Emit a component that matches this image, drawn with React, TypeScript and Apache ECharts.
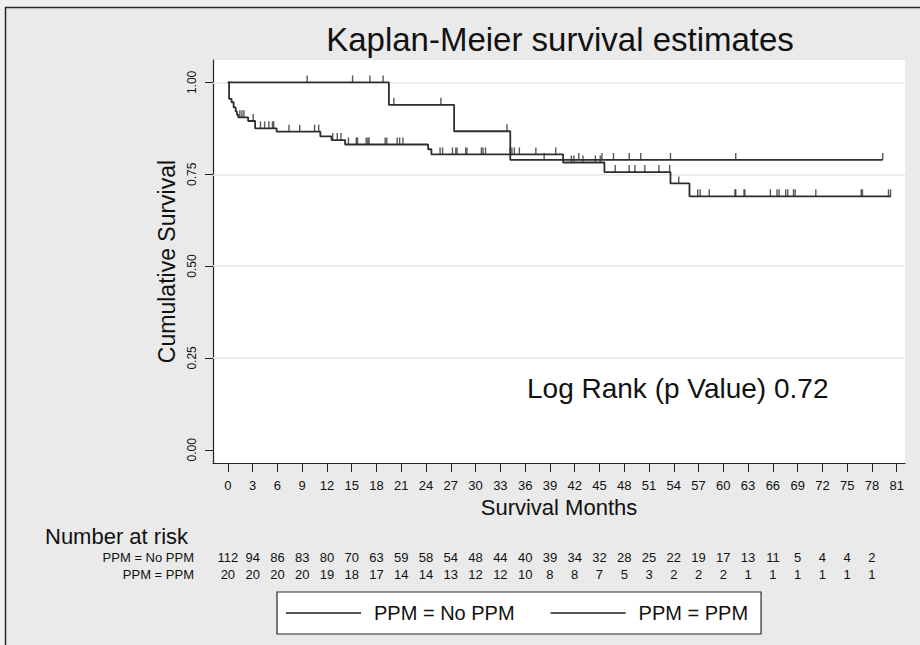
import React, { useEffect, useRef } from "react";
import * as echarts from "echarts";

// ---- data ----
const noPpmTimes = [0, 0.15, 0.45, 0.7, 0.95, 1.1, 1.25, 2.45, 3.3, 5.9, 11.2, 12.55, 14.2, 24.25, 24.65, 40.6, 45.6, 53.6, 55.9, 80.3];
const noPpmSurv = [1.0, 0.955, 0.946, 0.932, 0.921, 0.912, 0.905, 0.895, 0.875, 0.866, 0.853, 0.843, 0.831, 0.818, 0.804, 0.782, 0.756, 0.725, 0.69, 0.69];

const ppmTimes = [0, 19.5, 27.4, 34.2, 79.3];
const ppmSurv = [1.0, 0.939, 0.867, 0.789, 0.789];

const noPpmCensored = [1.45, 1.7, 1.95, 3.07, 3.95, 4.45, 4.97, 5.4, 5.55, 7.4, 8.7, 10.5, 11.0, 12.7, 13.25, 13.7, 14.6, 15.55, 15.7, 16.75, 16.95, 17.1, 19.05, 19.25, 20.5, 20.8, 21.2, 25.7, 26.0, 27.2, 27.6, 27.75, 28.8, 28.95, 30.7, 30.9, 31.2, 34.2, 34.4, 34.7, 35.3, 37.3, 39.7, 41.6, 41.9, 43.0, 44.5, 45.1, 46.9, 48.6, 49.3, 50.5, 52.2, 53.5, 54.6, 56.9, 57.2, 58.3, 61.4, 61.5, 62.5, 62.6, 65.7, 66.5, 66.75, 67.55, 67.8, 68.5, 68.7, 71.2, 76.7, 76.85, 80.0, 80.25];
const ppmCensored = [9.6, 15.1, 17.2, 18.8, 20.1, 25.8, 33.8, 38.3, 42.5, 45.3, 46.7, 48.6, 50.0, 53.6, 61.5, 79.3];

const xTicks = [0, 3, 6, 9, 12, 15, 18, 21, 24, 27, 30, 33, 36, 39, 42, 45, 48, 51, 54, 57, 60, 63, 66, 69, 72, 75, 78, 81];
const yTicks = [0, 0.25, 0.5, 0.75, 1.0];
const yGridLines = [0.25, 0.5, 0.75, 1.0];

const riskTimes = [0, 3, 6, 9, 12, 15, 18, 21, 24, 27, 30, 33, 36, 39, 42, 45, 48, 51, 54, 57, 60, 63, 66, 69, 72, 75, 78];
const riskNoPpm = [112, 94, 86, 83, 80, 70, 63, 59, 58, 54, 48, 44, 40, 39, 34, 32, 28, 25, 22, 19, 17, 13, 11, 5, 4, 4, 2];
const riskPpm = [20, 20, 20, 20, 19, 18, 17, 14, 14, 13, 12, 12, 10, 8, 8, 7, 5, 3, 2, 2, 2, 1, 1, 1, 1, 1, 1];

const seriesNames = ["PPM = No PPM", "PPM = PPM"];
const titleText = "Kaplan-Meier survival estimates";
const annotationText = "Log Rank (p Value) 0.72";

const FONT = "Liberation Sans, Arial, Helvetica, sans-serif";

function stepValue(times: number[], surv: number[], t: number) {
  let v = surv[0];
  for (let i = 0; i < times.length; i++) {
    if (times[i] <= t) v = surv[i];
  }
  return v;
}

function riskAt(arr: number[], v: number) {
  const i = riskTimes.findIndex((t) => Math.abs(t - v) < 1e-6);
  return i >= 0 ? String(arr[i]) : "";
}

export default function App() {
  const ref = useRef<HTMLDivElement>(null);

  useEffect(() => {
    document.body.style.margin = "0";
    if (!ref.current) return;
    const chart = echarts.init(ref.current, undefined, { renderer: "svg" });

    const lineColor = "#2e2e2e";
    const xMin = -1.8;
    const xMax = 82;

    const option: any = {
      animation: false,
      backgroundColor: "#eef0f2",
      textStyle: { fontFamily: FONT },
      grid: [
        { left: 213, top: 60, width: 692, height: 403, show: true, backgroundColor: "#ffffff", borderWidth: 0 },
        { left: 213, top: 540, width: 692, height: 4 },
        { left: 213, top: 557, width: 692, height: 4 },
      ],
      legend: {
        data: seriesNames,
        left: 277,
        top: 592,
        orient: "horizontal",
        icon: "rect",
        itemWidth: 75,
        itemHeight: 2,
        itemGap: 36,
        padding: [10, 13, 10, 9],
        backgroundColor: "#ffffff",
        borderColor: "#2a2a2a",
        borderWidth: 1.2,
        borderRadius: 0,
        selectedMode: false,
        textStyle: { fontSize: 20, color: "#111", fontFamily: FONT, lineHeight: 22, padding: [0, 0, 0, 8] },
      },
      xAxis: [
        {
          gridIndex: 0,
          type: "value",
          min: xMin,
          max: xMax,
          axisLine: { show: true, onZero: false, lineStyle: { color: "#222", width: 1.2 } },
          axisTick: { show: true, customValues: xTicks, length: 9, lineStyle: { color: "#222", width: 1 } },
          axisLabel: { customValues: xTicks, fontSize: 13, color: "#111", margin: 16, fontFamily: FONT },
          splitLine: { show: false },
          name: "Survival Months",
          nameLocation: "middle",
          nameGap: 30,
          nameTextStyle: { fontSize: 22, color: "#111", fontFamily: FONT },
        },
        {
          gridIndex: 1,
          type: "value",
          min: xMin,
          max: xMax,
          axisLine: { show: false },
          axisTick: { show: false },
          splitLine: { show: false },
          axisLabel: {
            customValues: riskTimes,
            fontSize: 13,
            color: "#111",
            margin: 7,
            fontFamily: FONT,
            formatter: (v: number) => riskAt(riskNoPpm, v),
          },
        },
        {
          gridIndex: 2,
          type: "value",
          min: xMin,
          max: xMax,
          axisLine: { show: false },
          axisTick: { show: false },
          splitLine: { show: false },
          axisLabel: {
            customValues: riskTimes,
            fontSize: 13,
            color: "#111",
            margin: 7,
            fontFamily: FONT,
            formatter: (v: number) => riskAt(riskPpm, v),
          },
        },
      ],
      yAxis: [
        {
          gridIndex: 0,
          type: "value",
          min: -0.036,
          max: 1.061,
          axisLine: { show: true, onZero: false, lineStyle: { color: "#222", width: 1.2 } },
          axisTick: { show: true, customValues: yTicks, length: 8, lineStyle: { color: "#222", width: 1 } },
          axisLabel: {
            customValues: yTicks,
            rotate: 90,
            fontSize: 12,
            color: "#111",
            margin: 15,
            fontFamily: FONT,
            formatter: (v: number) => v.toFixed(2),
          },
          splitLine: { show: false },
          name: "Cumulative Survival",
          nameLocation: "middle",
          nameGap: 29,
          nameTextStyle: { fontSize: 23, color: "#111", fontFamily: FONT },
        },
        { gridIndex: 1, type: "value", show: false, min: 0, max: 1 },
        { gridIndex: 2, type: "value", show: false, min: 0, max: 1 },
      ],
      series: [
        {
          name: "gridlines",
          type: "line",
          xAxisIndex: 0,
          yAxisIndex: 0,
          data: [],
          z: 1,
          silent: true,
          markLine: {
            z: 1,
            silent: true,
            symbol: ["none", "none"],
            label: { show: false },
            lineStyle: { color: "#e8e8e8", width: 1.5, type: "solid" },
            data: yGridLines.map((v) => ({ yAxis: v })),
          },
        },
        {
          name: seriesNames[0],
          type: "line",
          xAxisIndex: 0,
          yAxisIndex: 0,
          step: "end",
          showSymbol: false,
          z: 3,
          data: noPpmTimes.map((t, i) => [t, noPpmSurv[i]]),
          lineStyle: { color: lineColor, width: 1.8 },
          itemStyle: { color: "#555" },
        },
        {
          name: seriesNames[1],
          type: "line",
          xAxisIndex: 0,
          yAxisIndex: 0,
          step: "end",
          showSymbol: false,
          z: 3,
          data: ppmTimes.map((t, i) => [t, ppmSurv[i]]),
          lineStyle: { color: lineColor, width: 1.8 },
          itemStyle: { color: "#555" },
        },
        {
          name: "censored No PPM",
          type: "scatter",
          xAxisIndex: 0,
          yAxisIndex: 0,
          z: 4,
          symbol: "rect",
          symbolSize: [1.4, 7],
          symbolOffset: [0, -3.5],
          itemStyle: { color: lineColor },
          data: noPpmCensored.map((t) => [t, stepValue(noPpmTimes, noPpmSurv, t)]),
        },
        {
          name: "censored PPM",
          type: "scatter",
          xAxisIndex: 0,
          yAxisIndex: 0,
          z: 4,
          symbol: "rect",
          symbolSize: [1.4, 7],
          symbolOffset: [0, -3.5],
          itemStyle: { color: lineColor },
          data: ppmCensored.map((t) => [t, stepValue(ppmTimes, ppmSurv, t)]),
        },
      ],
      graphic: [
        {
          type: "rect",
          z: -100,
          silent: true,
          shape: { x: 5.5, y: 7.5, width: 940, height: 660 },
          style: { fill: "#eaeaea", stroke: "#2a2a2a", lineWidth: 1.5 },
        },
        {
          type: "text",
          x: 560,
          y: 39,
          silent: true,
          style: { text: titleText, fontSize: 33, fontFamily: FONT, fill: "#111", align: "center", verticalAlign: "middle" },
        },
        {
          type: "text",
          x: 527,
          y: 388,
          silent: true,
          style: { text: annotationText, fontSize: 28, fontFamily: FONT, fill: "#111", align: "left", verticalAlign: "middle" },
        },
        {
          type: "text",
          x: 45,
          y: 536,
          silent: true,
          style: { text: "Number at risk", fontSize: 22, fontFamily: FONT, fill: "#111", align: "left", verticalAlign: "middle" },
        },
        {
          type: "text",
          x: 194,
          y: 557,
          silent: true,
          style: { text: seriesNames[0], fontSize: 13, fontFamily: FONT, fill: "#111", align: "right", verticalAlign: "middle" },
        },
        {
          type: "text",
          x: 194,
          y: 574,
          silent: true,
          style: { text: seriesNames[1], fontSize: 13, fontFamily: FONT, fill: "#111", align: "right", verticalAlign: "middle" },
        },
      ],
    };

    chart.setOption(option);
    return () => chart.dispose();
  }, []);

  return <div ref={ref} style={{ width: 920, height: 645 }} />;
}
